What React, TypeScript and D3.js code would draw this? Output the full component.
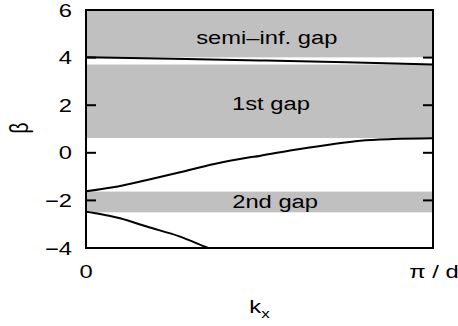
import React, { useRef, useEffect } from "react";
import * as d3 from "d3";

// kx as a fraction of pi/d, beta
const upperK = [0, 0.25, 0.5, 0.75, 1];
const upperB = [4.01, 3.95, 3.88, 3.8, 3.71];

const midK = [0, 0.078, 0.176, 0.271, 0.366, 0.464, 0.5, 0.597, 0.695, 0.79, 0.885, 1];
const midB = [-1.62, -1.45, -1.14, -0.82, -0.48, -0.21, -0.13, 0.12, 0.33, 0.51, 0.58, 0.61];

const lowK = [0, 0.04, 0.098, 0.175, 0.271, 0.352, 0.4];
const lowB = [-2.48, -2.57, -2.75, -3.1, -3.52, -4.0, -4.25];

// gaps: top, bottom, label
const gapTop = [6, 3.71, -1.63];
const gapBottom = [4.01, 0.62, -2.5];
const gapLabels = ["semi\u2013inf. gap", "1st gap", "2nd gap"];

const yTicks = [6, 4, 2, 0, -2, -4];
const innerTicks = [4, 2, 0, -2];

const W = 458;
const H = 326;
const M = { TOP: 10, LEFT: 86, RIGHT: 25, BOTTOM: 78 };
const SX = 1.32; // the lettering in the figure is stretched sideways

const Chart = (el: SVGSVGElement) => {
  const svg = d3.select(el);
  svg.selectAll("*").remove();

  const x = d3.scaleLinear().domain([0, 1]).range([M.LEFT, W - M.RIGHT]);
  const y = d3.scaleLinear().domain([-4, 6]).range([H - M.BOTTOM, M.TOP]);
  const font = "'Liberation Sans', Arial, sans-serif";

  const label = (px: number, py: number, txt: string, anchor: string, size = 18) =>
    svg.append("text")
      .attr("transform", `translate(${px},${py}) scale(${SX},1)`)
      .attr("text-anchor", anchor)
      .attr("font-family", font)
      .attr("font-size", size)
      .text(txt);

  svg.append("clipPath").attr("id", "plot")
    .append("rect")
    .attr("x", x(0)).attr("y", y(6))
    .attr("width", x(1) - x(0)).attr("height", y(-4) - y(6));

  const g = svg.append("g").attr("clip-path", "url(#plot)");

  g.selectAll("rect.gap").data(gapTop).enter().append("rect")
    .attr("class", "gap")
    .attr("x", x(0))
    .attr("width", x(1) - x(0))
    .attr("y", d => y(d))
    .attr("height", (d, i) => y(gapBottom[i]) - y(d))
    .attr("fill", "#c0c0c0");

  const line = d3.line<[number, number]>().x(d => x(d[0])).y(d => y(d[1])).curve(d3.curveMonotoneX);
  const curves = [
    upperK.map((k, i) => [k, upperB[i]] as [number, number]),
    midK.map((k, i) => [k, midB[i]] as [number, number]),
    lowK.map((k, i) => [k, lowB[i]] as [number, number]),
  ];
  g.selectAll("path.band").data(curves).enter().append("path")
    .attr("class", "band")
    .attr("d", d => line(d))
    .attr("fill", "none")
    .attr("stroke", "#000")
    .attr("stroke-width", 2);

  // gap labels (baselines)
  const labelK = [0.521, 0.533, 0.545];
  const labelB = [4.57, 1.8, -2.32];
  gapLabels.forEach((t, i) => label(x(labelK[i]), y(labelB[i]), t, "middle"));

  // inside ticks
  svg.selectAll("line.tl").data(innerTicks).enter().append("line")
    .attr("x1", x(0)).attr("x2", x(0) + 10)
    .attr("y1", d => y(d)).attr("y2", d => y(d))
    .attr("stroke", "#000").attr("stroke-width", 2);
  svg.selectAll("line.tr").data(innerTicks).enter().append("line")
    .attr("x1", x(1) - 10).attr("x2", x(1))
    .attr("y1", d => y(d)).attr("y2", d => y(d))
    .attr("stroke", "#000").attr("stroke-width", 2);

  // frame
  svg.append("rect")
    .attr("x", x(0)).attr("y", y(6))
    .attr("width", x(1) - x(0)).attr("height", y(-4) - y(6))
    .attr("fill", "none").attr("stroke", "#000").attr("stroke-width", 2);

  yTicks.forEach(d =>
    label(x(0) - 14, y(d) + 6.5, d < 0 ? "\u2212" + Math.abs(d) : String(d), "end")
  );

  label(x(0), y(-4) + 30, "0", "middle");
  label(x(1) + 1, y(-4) + 30, "\u03c0 / d", "middle");

  const xl = svg.append("text")
    .attr("transform", `translate(${(x(0) + x(1)) / 2},313) scale(${SX},1)`)
    .attr("text-anchor", "middle")
    .attr("font-family", font)
    .attr("font-size", 18);
  xl.append("tspan").text("k");
  xl.append("tspan").attr("font-size", 13).attr("dy", 5).text("x");

  svg.append("text")
    .attr("transform", `translate(27.5,128) scale(${SX},1) rotate(-90)`)
    .attr("text-anchor", "middle")
    .attr("font-family", font)
    .attr("font-size", 19)
    .text("\u03b2");
};

export default function App() {
  const ref = useRef<SVGSVGElement>(null);
  useEffect(() => {
    if (ref.current) Chart(ref.current);
  }, []);
  return (
    <svg
      ref={ref}
      width={W}
      height={H}
      style={{ position: "absolute", left: 0, top: 0, background: "#fff" }}
    />
  );
}
